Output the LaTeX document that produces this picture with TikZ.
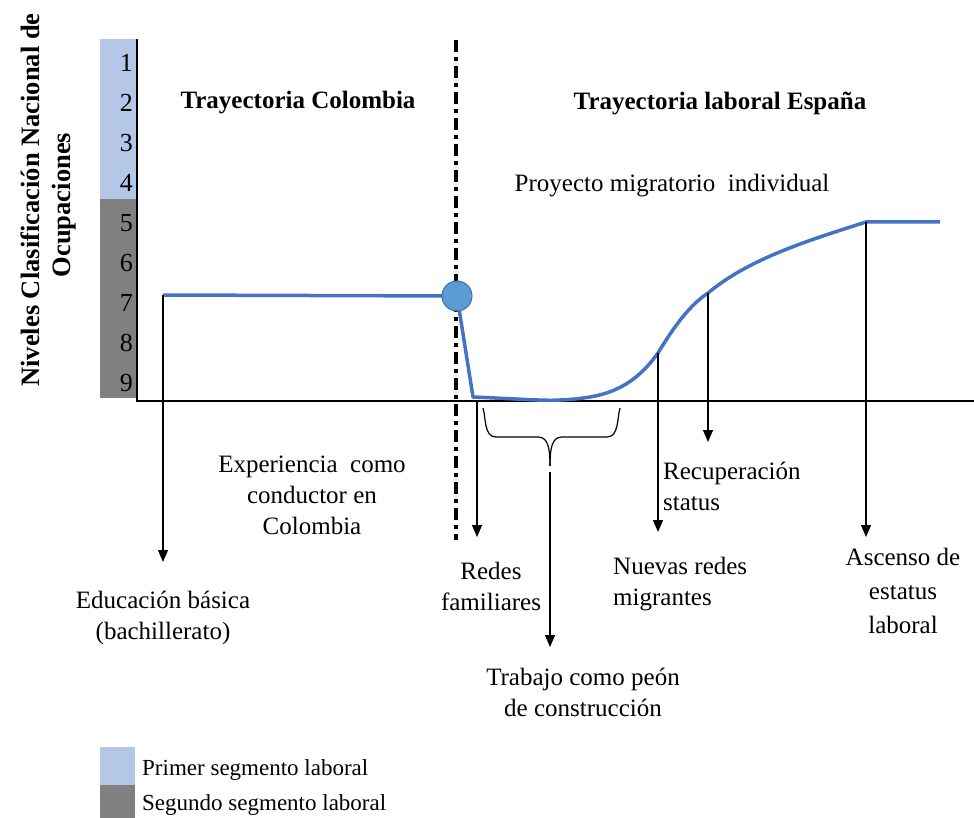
\documentclass[tikz,border=0pt]{standalone}
\usepackage{fontspec}
\setmainfont{Liberation Serif}
\usetikzlibrary{arrows.meta}
\definecolor{lblue}{HTML}{B4C7E7}
\definecolor{dgray}{HTML}{808080}
\definecolor{lineblue}{HTML}{4472C4}
\definecolor{dotfill}{HTML}{5B9BD5}
\definecolor{dotdraw}{HTML}{41719C}
\begin{document}
\begin{tikzpicture}[x=1pt,y=-1pt,
  txt/.style={font=\fontsize{25}{31}\selectfont, inner sep=0pt, align=center},
  bold/.style={txt, font=\fontsize{25}{31}\selectfont\bfseries},
  ylab/.style={txt, font=\fontsize{26.5}{31}\selectfont\bfseries, rotate=90},
  num/.style={font=\fontsize{26}{26}\selectfont, inner sep=0pt, anchor=east},
  axis/.style={line width=1.6pt},
  drop/.style={line width=1.3pt, -{Triangle[length=12pt,width=10pt]}},
  traj/.style={lineblue, line width=3.5pt, line join=round}]
\useasboundingbox (0,0) rectangle (974,818);
% bar
\fill[lblue] (100,39) rectangle (136,199);
\fill[dgray] (100,199) rectangle (136,398);
\foreach \n [count=\i from 0] in {1,...,9}
  \node[num] (n\n) at (133,{63+40*\i}) {\n};
% axes
\coordinate (ytop) at (137,39);
\coordinate (orig) at (137,401);
\coordinate (xend) at (974,401);
\draw[axis] (ytop) -- (orig) -- (xend);
% y label
\node[ylab] (ylab1) at (30,200) {Niveles Clasificación Nacional de};
\node[ylab] (ylab2) at (64,205) {Ocupaciones};
% dash-dot divider
\coordinate (dtop) at (456,40);
\coordinate (dbot) at (456,540);
\draw[line width=3.2pt, dash pattern=on 12pt off 5pt on 4pt off 5pt] (dtop) -- (dbot);
% titles
\node[bold] (tcol) at (298,103) {Trayectoria Colombia};
\node[bold] (tesp) at (720,103) {Trayectoria laboral España};
\node[txt] (proy) at (672,186) {Proyecto migratorio\ \ individual};
% trajectory
\coordinate (p0) at (163,295);
\coordinate (pc) at (457,296);
\coordinate (p1) at (473,397);
\coordinate (p2) at (658,353);
\coordinate (p3) at (708,293);
\coordinate (p4) at (866,222);
\coordinate (p5) at (940,222);
\draw[traj] (p0) -- (pc) -- (p1)
  .. controls (520,399) and (545,401) .. (560,400)
  .. controls (600,398) and (630,392) .. (p2)
  .. controls (675,325) and (690,305) .. (p3)
  .. controls (750,258) and (810,240) .. (p4) -- (p5);
\node[circle, fill=dotfill, draw=dotdraw, line width=1pt, minimum size=30pt, inner sep=0pt] (circ) at (pc) {};
% drop arrows
\coordinate (a1e) at (163,562);
\coordinate (a2s) at (477,401);
\coordinate (a2e) at (477,537);
\coordinate (a4e) at (658,532);
\coordinate (a5e) at (708,442);
\coordinate (a6e) at (866,537);
\draw[drop] (p0) -- (a1e);
\draw[drop] (a2s) -- (a2e);
\draw[drop] (p2) -- (a4e);
\draw[drop] (p3) -- (a5e);
\draw[drop] (p4) -- (a6e);
% brace
\coordinate (bl) at (483,408);
\coordinate (br) at (620,408);
\coordinate (btip) at (550,466);
\draw[line width=1.2pt] (bl) .. controls (486,418) and (484,437) .. (496,437) -- (538,437)
  .. controls (548,437) and (550,448) .. (btip);
\draw[line width=1.2pt] (br) .. controls (617,418) and (619,437) .. (607,437) -- (562,437)
  .. controls (552,437) and (550,448) .. (btip);
\coordinate (a3s) at (550,472);
\coordinate (a3e) at (550,647);
\draw[drop] (a3s) -- (a3e);
% labels
\node[txt] (exp) at (312,495) {Experiencia\ \ como\\conductor en\\Colombia};
\node[txt] (edu) at (163,618) {Educación básica\\(bachillerato)};
\node[txt] (redes) at (491,586) {Redes\\familiares};
\node[txt] (trab) at (583,692) {Trabajo como peón\\de construcción};
\node[txt, align=left, anchor=west] (recu) at (663,486) {Recuperación\\status};
\node[txt, align=left, anchor=west] (nuev) at (613,584) {Nuevas redes\\migrantes};
\node[txt, font=\fontsize{25}{34}\selectfont] (asc) at (903,591) {Ascenso de\\estatus\\laboral};
% legend
\fill[lblue] (100,747) rectangle (135,785);
\fill[dgray] (100,785) rectangle (135,818);
\node[txt, font=\fontsize{23}{25}\selectfont, anchor=west] (leg1) at (142,770) {Primer segmento laboral};
\node[txt, font=\fontsize{23}{25}\selectfont, anchor=west] (leg2) at (142,805) {Segundo segmento laboral};
\end{tikzpicture}
\end{document}
